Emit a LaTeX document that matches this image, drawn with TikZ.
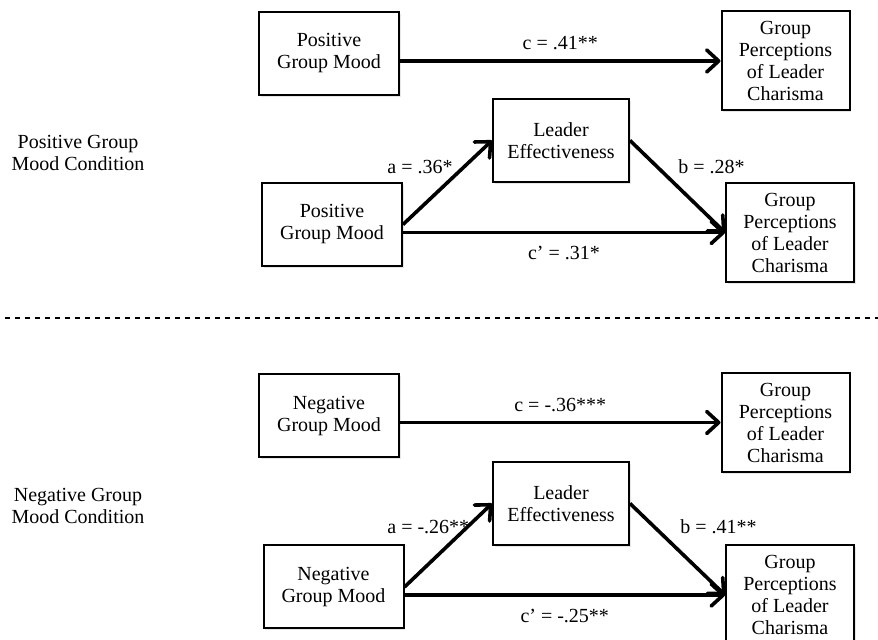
\documentclass[tikz,border=0pt]{standalone}
\usepackage{fontspec}
\setmainfont{Liberation Serif}
\usetikzlibrary{arrows.meta, positioning, shadows}
\tikzstyle{model}=[x=0.5pt, y=-0.5pt, font=\fontsize{10}{11}\selectfont, >={Straight Barb[length=6pt,width=11pt,round]}]
\tikzstyle{var}=[draw, line width=1pt, align=center, inner sep=1pt, fill=white,
  drop shadow={shadow xshift=0.8pt, shadow yshift=-0.8pt, opacity=0.2}]
\tikzstyle{mood}=[var, minimum width=70pt, minimum height=41.5pt]
\tikzstyle{eff}=[var, minimum width=68pt, minimum height=41.5pt]
\tikzstyle{char}=[var, minimum width=64pt, minimum height=49.5pt]
\tikzstyle{effect}=[->, line width=1.8pt]
\tikzstyle{coef}=[inner sep=1pt]

\begin{document}
\begin{tikzpicture}[model]
  \useasboundingbox (0,0) rectangle (878,640);
  % positive group mood condition
  \node[align=center] (pcond) at (78,153) {Positive Group\\Mood Condition};
  \node[mood] (px) at (329,53.5) {Positive\\Group Mood};
  \node[char] (py) at (785.5,61) {Group\\Perceptions\\of Leader\\Charisma};
  \node[eff] (pm) at (561,140.5) {Leader\\Effectiveness};
  \node[mood] (px2) at (332,224.5) {Positive\\Group Mood};
  \node[char] (py2) at (790,232.5) {Group\\Perceptions\\of Leader\\Charisma};
  \path[effect] (px.east |- py.west) edge node[coef, above=3.5pt] {c = .41**} (py.west);
  \path[effect] (px2.east) edge (pm.west);
  \path[effect] (pm.east) edge (py2.west);
  \path[effect] (px2.east |- py2.west) edge node[coef, below=5pt] {c’ = .31*} (py2.west);
  \node[coef, anchor=west] (pa) at (385,167) {a = .36*};
  \node[coef, anchor=west] (pb) at (676,167) {b = .28*};
  % separator
  \coordinate (sepl) at (5,318);
  \coordinate (sepr) at (878,318);
  \draw[line width=1.1pt, dash pattern=on 2.6pt off 2.4pt] (sepl) -- (sepr);
  % negative group mood condition
  \node[align=center] (ncond) at (78,506) {Negative Group\\Mood Condition};
  \node[mood] (nx) at (329,416) {Negative\\Group Mood};
  \node[char] (ny) at (785.5,422.5) {Group\\Perceptions\\of Leader\\Charisma};
  \node[eff] (nm) at (561,503.5) {Leader\\Effectiveness};
  \node[mood] (nx2) at (333.5,587) {Negative\\Group Mood};
  \node[char] (ny2) at (790,595) {Group\\Perceptions\\of Leader\\Charisma};
  \path[effect] (nx.east |- ny.west) edge node[coef, above=3.5pt] {c = -.36***} (ny.west);
  \path[effect] (nx2.east) edge (nm.west);
  \path[effect] (nm.east) edge (ny2.west);
  \path[effect] (nx2.east |- ny2.west) edge node[coef, below=5pt] {c’ = -.25**} (ny2.west);
  \node[coef, anchor=west] (na) at (385,527) {a = -.26**};
  \node[coef, anchor=west] (nb) at (678,527) {b = .41**};
\end{tikzpicture}
\end{document}
